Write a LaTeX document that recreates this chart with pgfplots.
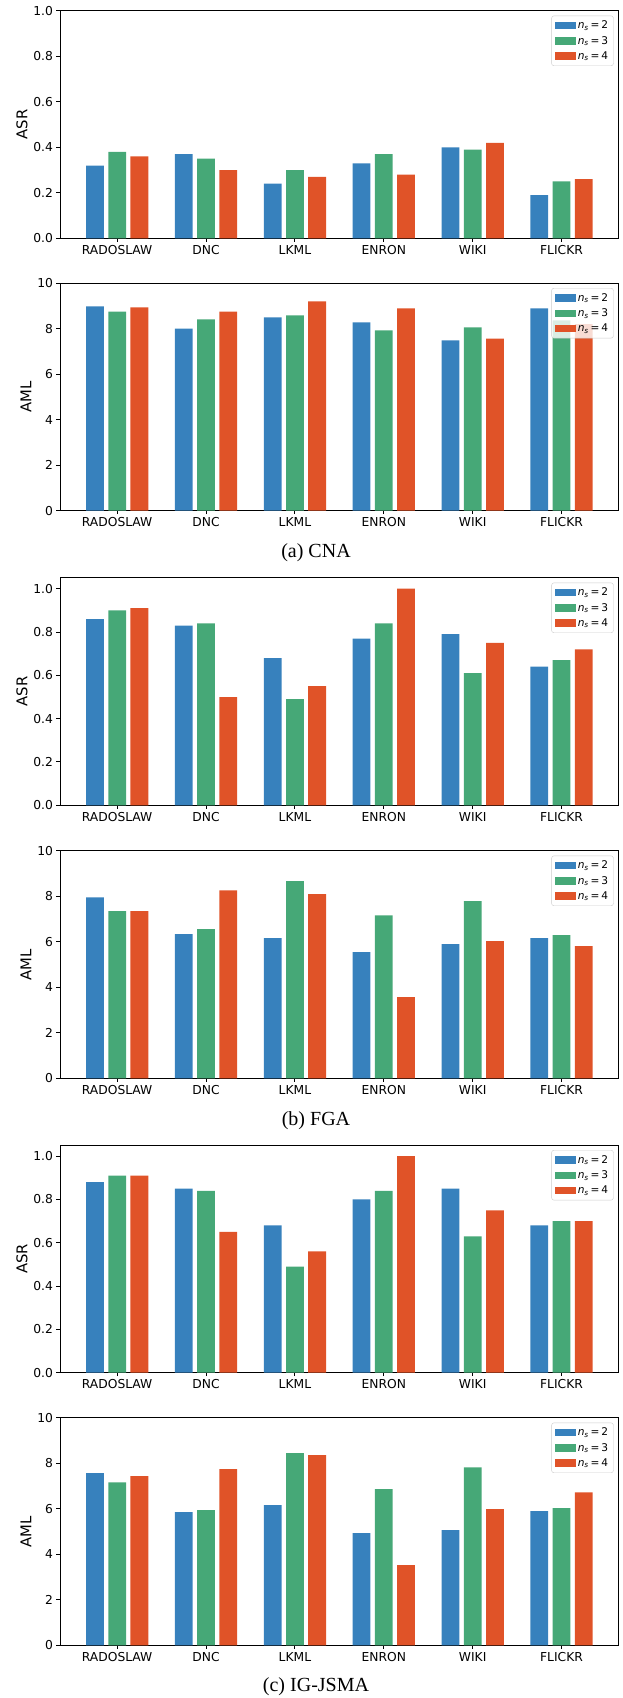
\documentclass[border=0pt]{standalone}
\usepackage{amsmath}
\usepackage{pgfplots}
\usepackage{pgfplotstable}
\pgfplotsset{compat=1.18}
\usepackage{fontspec}
\setmainfont{DejaVu Sans}
\newfontfamily\capfont{Liberation Serif}
\definecolor{cB}{RGB}{55,129,189}
\definecolor{cG}{RGB}{70,168,119}
\definecolor{cR}{RGB}{224,83,40}
\newcommand\ticksize{\fontsize{12.3}{14}\selectfont}
\newcommand\labsize{\fontsize{14.8}{17}\selectfont}
\newcommand\legsize{\fontsize{10.6}{12}\selectfont}

% CNA
\pgfplotstableread{
x b g r
0 0.32 0.38 0.36
1 0.37 0.35 0.30
2 0.24 0.30 0.27
3 0.33 0.37 0.28
4 0.40 0.39 0.42
5 0.19 0.25 0.26
}\tAa
\pgfplotstableread{
x b g r
0 8.99 8.76 8.94
1 8.01 8.41 8.76
2 8.50 8.59 9.21
3 8.28 7.93 8.90
4 7.49 8.06 7.57
5 8.90 8.37 8.20
}\tAb
% FGA
\pgfplotstableread{
x b g r
0 0.86 0.90 0.91
1 0.83 0.84 0.50
2 0.68 0.49 0.55
3 0.77 0.84 1.00
4 0.79 0.61 0.75
5 0.64 0.67 0.72
}\tBa
\pgfplotstableread{
x b g r
0 7.96 7.35 7.35
1 6.34 6.56 8.27
2 6.16 8.67 8.10
3 5.55 7.17 3.57
4 5.90 7.79 6.03
5 6.16 6.30 5.81
}\tBb
% IG-JSMA
\pgfplotstableread{
x b g r
0 0.88 0.91 0.91
1 0.85 0.84 0.65
2 0.68 0.49 0.56
3 0.80 0.84 1.00
4 0.85 0.63 0.75
5 0.68 0.70 0.70
}\tCa
\pgfplotstableread{
x b g r
0 7.57 7.17 7.44
1 5.86 5.94 7.75
2 6.16 8.45 8.36
3 4.93 6.87 3.53
4 5.07 7.83 5.99
5 5.90 6.03 6.73
}\tCb

\pgfplotsset{
  panel/.style={
    scale only axis, width=558.7pt, height=227.4pt,
    xmin=-0.643, xmax=5.643, ymin=0,
    xtick={0,...,5},
    xticklabels={RADOSLAW,DNC,LKML,ENRON,WIKI,FLICKR},
    tick align=outside, tick pos=left,
    major tick length=3.5pt,
    every tick/.style={black, line width=1pt},
    axis line style={line width=1pt},
    ticklabel style={font=\ticksize},
    /pgf/number format/assume math mode=true,
    legend cell align=left,
    legend style={at={(1,1)}, anchor=north east, xshift=-5pt, yshift=-4.7pt,
      draw=black!20, rounded corners=2.5pt, fill=white, fill opacity=0.8,
      text opacity=1, font=\legsize, inner xsep=3.5pt, inner ysep=3pt,
      row sep=2pt},
    legend image code/.code={\draw[##1, draw=none, sharp corners, fill opacity=1] (0pt,-3.7pt) rectangle (20.7pt,3.7pt);},
  },
  asr/.style={panel, ylabel={ASR},
    ytick={0,0.2,0.4,0.6,0.8,1.0},
    yticklabel style={/pgf/number format/.cd, fixed, fixed zerofill, precision=1},
    every axis y label/.style={at={(axis description cs:-0.068,0.5)}, rotate=90, anchor=center, font=\labsize}},
  aml/.style={panel, ylabel={AML}, ymax=10,
    ytick={0,2,4,6,8,10},
    every axis y label/.style={at={(axis description cs:-0.061,0.5)}, rotate=90, anchor=center, font=\labsize}},
  bb/.style={ybar, bar width=0.2, bar shift=0pt, draw=none, fill=cB},
  bg/.style={ybar, bar width=0.2, bar shift=0pt, draw=none, fill=cG},
  br/.style={ybar, bar width=0.2, bar shift=0pt, draw=none, fill=cR},
}
\newcommand\bars[1]{%
  \addplot[bb] table[x expr=\thisrow{x}-0.25, y=b] {#1};
  \addplot[bg] table[x=x, y=g] {#1};
  \addplot[br] table[x expr=\thisrow{x}+0.25, y=r] {#1};
  \legend{\textit{n}$_{\textit{s}}$\,=\,2, \textit{n}$_{\textit{s}}$\,=\,3, \textit{n}$_{\textit{s}}$\,=\,4}
}

\begin{document}
\begin{tikzpicture}[x=1pt,y=1pt]
\path[use as bounding box] (0,0) rectangle (623,-1698);

\begin{axis}[asr, ymax=1.0, at={(60pt,-238.3pt)}, anchor=south west]
\bars{\tAa}
\end{axis}
\begin{axis}[aml, at={(60pt,-510.7pt)}, anchor=south west]
\bars{\tAb}
\end{axis}
\node[font=\capfont\fontsize{20}{22}\selectfont] at (316,-552.7) {(a)\ CNA};

\begin{axis}[asr, ymax=1.05, at={(60pt,-805.3pt)}, anchor=south west]
\bars{\tBa}
\end{axis}
\begin{axis}[aml, at={(60pt,-1078.3pt)}, anchor=south west]
\bars{\tBb}
\end{axis}
\node[font=\capfont\fontsize{20}{22}\selectfont] at (316,-1120.7) {(b)\ FGA};

\begin{axis}[asr, ymax=1.05, at={(60pt,-1372.7pt)}, anchor=south west]
\bars{\tCa}
\end{axis}
\begin{axis}[aml, at={(60pt,-1645.3pt)}, anchor=south west]
\bars{\tCb}
\end{axis}
\node[font=\capfont\fontsize{20}{22}\selectfont] at (316,-1686.7) {(c)\ IG-JSMA};
\end{tikzpicture}
\end{document}
